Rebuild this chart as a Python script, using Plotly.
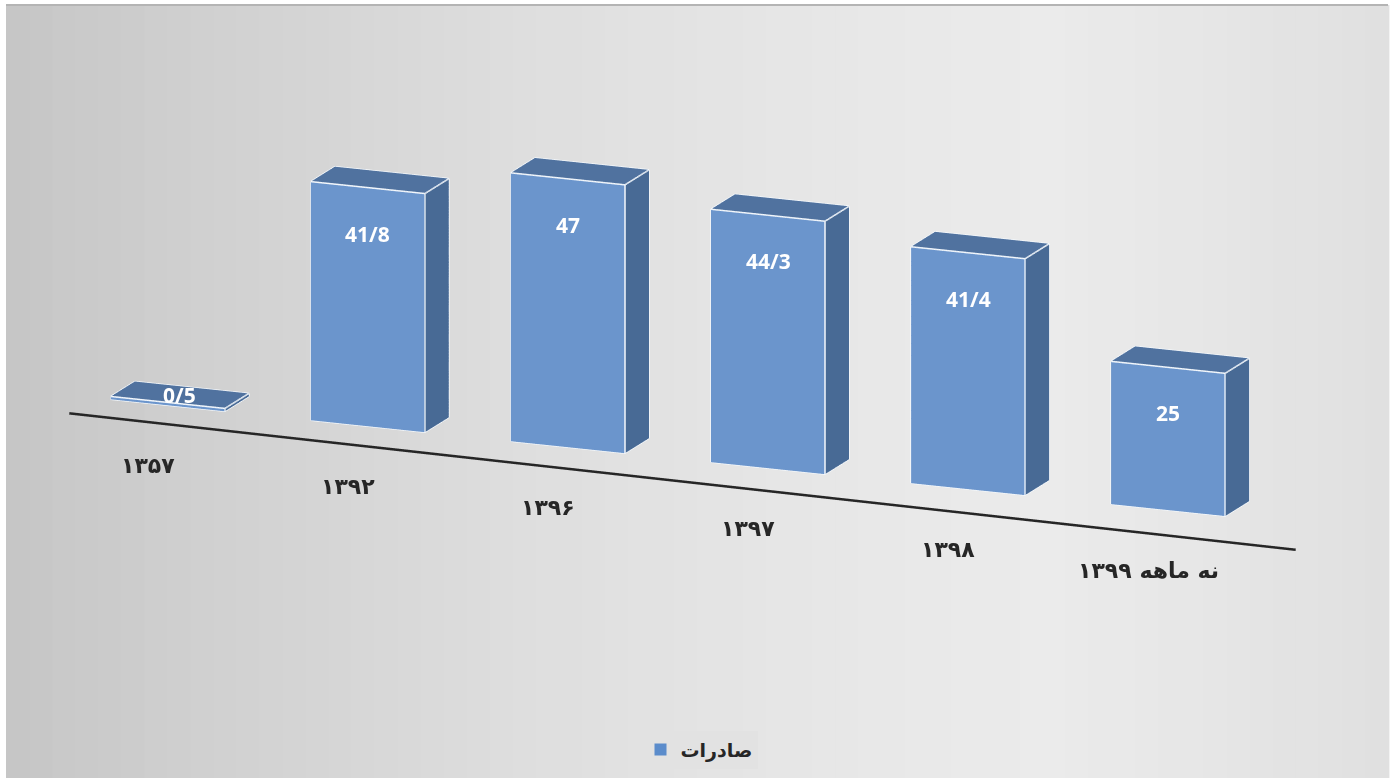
import numpy as np
import plotly.graph_objects as go

# ---------------------------------------------------------
# data
# ---------------------------------------------------------
categories = ["۱۳۵۷", "۱۳۹۲", "۱۳۹۶", "۱۳۹۷", "۱۳۹۸", "نه ماهه ۱۳۹۹"]
values = [0.5, 41.8, 47, 44.3, 41.4, 25]
value_labels = ["0/5", "41/8", "47", "44/3", "41/4", "25"]
series_name = "صادرات"

# ---------------------------------------------------------
# style
# ---------------------------------------------------------
FRONT = "#6B95CC"
SIDE = "#486A95"
TOP = "#50729F"
EDGE = "#F4F8FC"
W, H = 1398, 778

HALF_W = 0.285     # half bar width (category units)
DEPTH = 0.293      # bar depth (category units)

# ---------------------------------------------------------
# bars as boxes
# ---------------------------------------------------------
xs, ys, zs, ii, jj, kk, fc = [], [], [], [], [], [], []
ex, ey, ez = [], [], []
for n, v in enumerate(values):
    x0, x1 = n - HALF_W, n + HALF_W
    y0, y1 = 0, DEPTH
    b = len(xs)
    corners = [(x0, y0, 0), (x1, y0, 0), (x1, y1, 0), (x0, y1, 0),
               (x0, y0, v), (x1, y0, v), (x1, y1, v), (x0, y1, v)]
    for c in corners:
        xs.append(c[0]); ys.append(c[1]); zs.append(c[2])
    faces = [
        ((0, 1, 5), FRONT), ((0, 5, 4), FRONT),
        ((1, 2, 6), SIDE), ((1, 6, 5), SIDE),
        ((4, 5, 6), TOP), ((4, 6, 7), TOP),
        ((3, 2, 6), SIDE), ((3, 6, 7), SIDE),
        ((0, 3, 7), SIDE), ((0, 7, 4), SIDE),
        ((0, 1, 2), SIDE), ((0, 2, 3), SIDE),
    ]
    for (a, bb, c), col in faces:
        ii.append(b + a); jj.append(b + bb); kk.append(b + c); fc.append(col)
    # visible edges
    for p, q in [(0, 1), (1, 5), (5, 4), (4, 0), (5, 6), (6, 7), (7, 4), (1, 2), (2, 6)]:
        ex += [corners[p][0], corners[q][0], None]
        ey += [corners[p][1], corners[q][1], None]
        ez += [corners[p][2], corners[q][2], None]

fig = go.Figure()

fig.add_trace(go.Mesh3d(
    x=xs, y=ys, z=zs, i=ii, j=jj, k=kk,
    facecolor=fc, flatshading=True,
    lighting=dict(ambient=1, diffuse=0, specular=0, roughness=1, fresnel=0),
    hoverinfo="skip", showlegend=False
))

fig.add_trace(go.Scatter3d(
    x=ex, y=ey, z=ez, mode="lines",
    line=dict(color=EDGE, width=3),
    hoverinfo="skip", showlegend=False
))

# baseline (floor front edge)
fig.add_trace(go.Scatter3d(
    x=[-0.39, len(values) - 0.26], y=[-0.25, -0.25], z=[-0.6, -2.0],
    mode="lines", line=dict(color="#262626", width=5),
    hoverinfo="skip", showlegend=False
))

# legend entry
fig.add_trace(go.Scatter3d(
    x=[None], y=[None], z=[None], mode="markers", name=f"<b>{series_name}</b>",
    marker=dict(symbol="square", size=12, color="#5B8CCB"),
    showlegend=True
))

# ---------------------------------------------------------
# labels
# ---------------------------------------------------------
ann = []
for n, (v, t) in enumerate(zip(values, value_labels)):
    if v > 10:
        ann.append(dict(x=n, y=0, z=v, text=f"<b>{t}</b>", showarrow=False,
                        yshift=-46, font=dict(color="white", size=21, family="Open Sans")))
    else:
        ann.append(dict(x=n, y=DEPTH / 2, z=v, text=f"<b>{t}</b>", showarrow=False,
                        font=dict(color="white", size=21, family="Open Sans")))
for n, c in enumerate(categories):
    ann.append(dict(x=n, y=-0.24, z=0, text=f"<b>{c}</b>", showarrow=False,
                    yshift=-48, font=dict(color="#262626", size=22, family="DejaVu Sans")))

# ---------------------------------------------------------
# background gradient
# ---------------------------------------------------------
shapes = []
n_strips = 60
x_left, x_right = 6 / W, 1388 / W
for s in range(n_strips):
    t = (s + 0.5) / n_strips
    g = int(198 + 40 * (1 - (1 - t) ** 2) - 14 * max(0, t - 0.75) * 4)
    shapes.append(dict(type="rect", xref="paper", yref="paper", layer="below",
                       x0=x_left + (x_right - x_left) * s / n_strips,
                       x1=x_left + (x_right - x_left) * (s + 1) / n_strips + 0.001,
                       y0=0, y1=1 - 5 / H,
                       fillcolor=f"rgb({g},{g},{g})", line=dict(width=0)))
shapes.append(dict(type="line", xref="paper", yref="paper", layer="below",
                   x0=x_left, x1=x_right, y0=1 - 5 / H, y1=1 - 5 / H,
                   line=dict(color="#B4B4B4", width=2)))

# ---------------------------------------------------------
# scene / camera
# ---------------------------------------------------------
theta = np.radians(22.3)
alpha = np.radians(14.8)
eye_dir = np.array([np.sin(theta) * np.cos(alpha), -np.cos(theta) * np.cos(alpha), np.sin(alpha)])
eye = eye_dir * 4

x_rng = [2.655 - 3.4, 2.655 + 3.4]
y_rng = [-0.6, 0.6]
z_rng = [12.6 - 40, 12.6 + 40]

zoom = 3.78
ax_off = dict(visible=False, showspikes=False)

fig.update_layout(
    width=W, height=H,
    paper_bgcolor="white",
    margin=dict(l=0, r=0, t=0, b=0),
    shapes=shapes,
    showlegend=True,
    legend=dict(x=0.5, y=0.012, xanchor="center", yanchor="bottom",
                bgcolor="#E2E2E2", font=dict(size=19, family="DejaVu Sans", color="#262626"),
                itemclick=False, itemdoubleclick=False),
    scene=dict(
        domain=dict(x=[0, 1], y=[0, 1]),
        xaxis=dict(range=x_rng, **ax_off),
        yaxis=dict(range=y_rng, **ax_off),
        zaxis=dict(range=z_rng, **ax_off),
        aspectmode="manual",
        aspectratio=dict(x=1 * zoom, y=0.1763 * zoom, z=0.3213 * zoom),
        camera=dict(eye=dict(x=eye[0], y=eye[1], z=eye[2]),
                    center=dict(x=0, y=0, z=0),
                    up=dict(x=0, y=0, z=1),
                    projection=dict(type="orthographic")),
        bgcolor="rgba(0,0,0,0)",
        annotations=ann,
        dragmode=False,
    ),
)

fig.write_html("out.html", config={"displayModeBar": False},
               post_script="document.body.style.margin='0';")
